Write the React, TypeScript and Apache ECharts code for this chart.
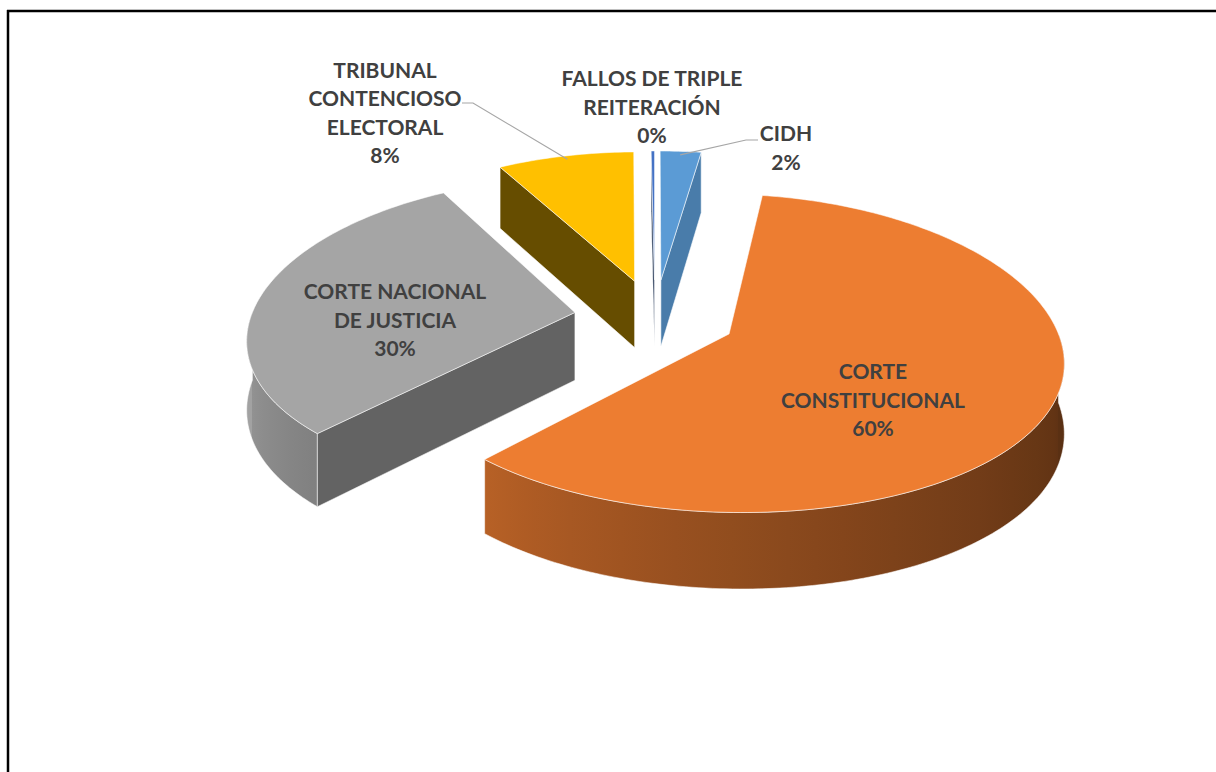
import React, { useEffect, useRef } from "react";
import * as echarts from "echarts";

// ---- data ----
const categories = [
  "CIDH",
  "CORTE\nCONSTITUCIONAL",
  "CORTE NACIONAL\nDE JUSTICIA",
  "TRIBUNAL\nCONTENCIOSO\nELECTORAL",
  "FALLOS DE TRIPLE\nREITERACIÓN",
];
const values = [2.4, 59.6, 29.8, 8.0, 0.2];
const colors = ["#5B9BD5", "#ED7D31", "#A5A5A5", "#FFC000", "#4472C4"];

// ---- layout (label anchors, leader starts) ----
const labelLayout: { x: number; y: number; leader?: number[][] }[] = [
  { x: 786, y: 147, leader: [[758, 140], [746, 140]] },
  { x: 873, y: 399 },
  { x: 395, y: 319 },
  { x: 385, y: 112, leader: [[462, 103], [473, 103]] },
  { x: 652, y: 106 },
];

const PIE = { cx: 655, cy: 317, rx: 324, ry: 152.8, ax: 0.15, ay: 0.12, depth: 68, dk: 0.1, explode: 0.25 };

function project(u: number, v: number, down: boolean): number[] {
  return [
    PIE.cx + (PIE.rx * u) / (1 + PIE.ax * v),
    PIE.cy - (PIE.ry * v) / (1 + PIE.ay * v) + (down ? PIE.depth / (1 + PIE.dk * v) : 0),
  ];
}

function shade(hex: string, f: number): string {
  const n = parseInt(hex.slice(1), 16);
  const r = Math.round(((n >> 16) & 255) * f);
  const g = Math.round(((n >> 8) & 255) * f);
  const b = Math.round((n & 255) * f);
  return `rgb(${r},${g},${b})`;
}

const rad = (d: number) => (d * Math.PI) / 180;
const wallF = (th: number) => {
  const t = Math.min(1, Math.max(0, (th - 90) / 180));
  return 0.38 + 0.6 * Math.pow(t, 1.4);
};
const radialF = (nu: number) => Math.max(0.4, Math.min(0.85, 0.6 + 0.775 * (nu - 0.731)));

export default function App() {
  const ref = useRef<HTMLDivElement>(null);
  useEffect(() => {
    if (!ref.current) return;
    const chart = echarts.init(ref.current, undefined, { renderer: "svg" });
    const total = values.reduce((a, b) => a + b, 0);

    // depth order (back to front) of slices
    const mids: number[] = [];
    let acc = 0;
    values.forEach((v) => {
      mids.push(((acc + v / 2) / total) * 360);
      acc += v;
    });
    const order = mids
      .map((m, i) => ({ i, ov: Math.cos(rad(m)) }))
      .sort((a, b) => b.ov - a.ov)
      .map((o) => o.i);

    const edge = "rgba(255,255,255,0.55)";

    const renderItem = (params: any, api: any) => {
      const i = params.dataIndex;
      const val = api.value(1);
      let before = 0;
      for (let j = 0; j < i; j++) before += values[j];
      const a0 = (before / total) * 360;
      const a1 = ((before + val) / total) * 360;
      const m = (a0 + a1) / 2;
      const ou = PIE.explode * Math.sin(rad(m));
      const ov = PIE.explode * Math.cos(rad(m));
      const pt = (th: number, r: number, down: boolean) =>
        project(ou + r * Math.sin(rad(th)), ov + r * Math.cos(rad(th)), down);
      const arc = (t0: number, t1: number, down: boolean) => {
        const n = Math.max(2, Math.ceil(t1 - t0) + 1);
        const pts: number[][] = [];
        for (let k = 0; k < n; k++) pts.push(pt(t0 + ((t1 - t0) * k) / (n - 1), 1, down));
        return pts;
      };
      const col = colors[i];
      const base = order.indexOf(i) * 10;
      const children: any[] = [];

      // outer curved wall
      const w0 = Math.max(a0, 90);
      const w1 = Math.min(a1, 270);
      if (w1 > w0) {
        const top = arc(w0, w1, false);
        const bot = arc(w0, w1, true).reverse();
        const xL = pt(w1, 1, false)[0];
        const xR = pt(w0, 1, false)[0];
        const stops: any[] = [];
        const ns = 16;
        let last = 0;
        for (let k = 0; k <= ns; k++) {
          const th = w1 - ((w1 - w0) * k) / ns;
          const x = pt(th, 1, false)[0];
          let off = (x - xL) / (xR - xL);
          off = Math.min(1, Math.max(last, off));
          last = off;
          stops.push({ offset: off, color: shade(col, wallF(th)) });
        }
        children.push({
          type: "polygon",
          z2: base + 1,
          shape: { points: top.concat(bot) },
          style: { fill: new echarts.graphic.LinearGradient(xL, 0, xR, 0, stops, true), stroke: edge, lineWidth: 1 },
        });
      }
      // radial walls
      if (Math.sin(rad(a0)) < -1e-6) {
        const nu = -Math.cos(rad(a0));
        children.push({
          type: "polygon",
          z2: base + 2,
          shape: { points: [pt(a0, 0, false), pt(a0, 1, false), pt(a0, 1, true), pt(a0, 0, true)] },
          style: { fill: shade(col, radialF(nu)), stroke: edge, lineWidth: 1 },
        });
      }
      if (Math.sin(rad(a1)) > 1e-6) {
        const nu = Math.cos(rad(a1));
        children.push({
          type: "polygon",
          z2: base + 2,
          shape: { points: [pt(a1, 0, false), pt(a1, 1, false), pt(a1, 1, true), pt(a1, 0, true)] },
          style: { fill: shade(col, radialF(nu)), stroke: edge, lineWidth: 1 },
        });
      }
      // top face
      children.push({
        type: "polygon",
        z2: base + 3,
        shape: { points: [pt(a0, 0, false)].concat(arc(a0, a1, false)) },
        style: { fill: col, stroke: edge, lineWidth: 1 },
      });
      // leader line
      const lay = labelLayout[i];
      if (lay.leader) {
        children.push({
          type: "polyline",
          z2: 9000,
          shape: { points: lay.leader.concat([pt(m, 0.97, false)]) },
          style: { stroke: "#A6A6A6", lineWidth: 1.2, fill: null },
        });
      }
      // label
      const pct = Math.round((val / total) * 100) + "%";
      children.push({
        type: "text",
        z2: 10000,
        style: {
          text: categories[i] + "\n" + pct,
          x: lay.x,
          y: lay.y,
          align: "center",
          verticalAlign: "middle",
          fontFamily: "Lato",
          fontWeight: "bold",
          fontSize: 21,
          lineHeight: 28.5,
          fill: "#404040",
        },
      });
      return { type: "group", children };
    };

    chart.setOption({
      animation: false,
      backgroundColor: "#ffffff",
      graphic: [
        { type: "line", shape: { x1: 7, y1: 11, x2: 1216, y2: 11 }, style: { stroke: "#000", lineWidth: 2.5 } },
        { type: "line", shape: { x1: 8, y1: 10, x2: 8, y2: 772 }, style: { stroke: "#000", lineWidth: 2.5 } },
      ],
      series: [
        {
          type: "custom",
          coordinateSystem: "none",
          silent: true,
          renderItem,
          data: values.map((v, i) => ({ name: categories[i].replace(/\n/g, " "), value: [i, v] })),
        },
      ],
    });
    return () => chart.dispose();
  }, []);
  return <div ref={ref} style={{ position: "absolute", left: 0, top: 0, width: 1216, height: 772 }} />;
}
